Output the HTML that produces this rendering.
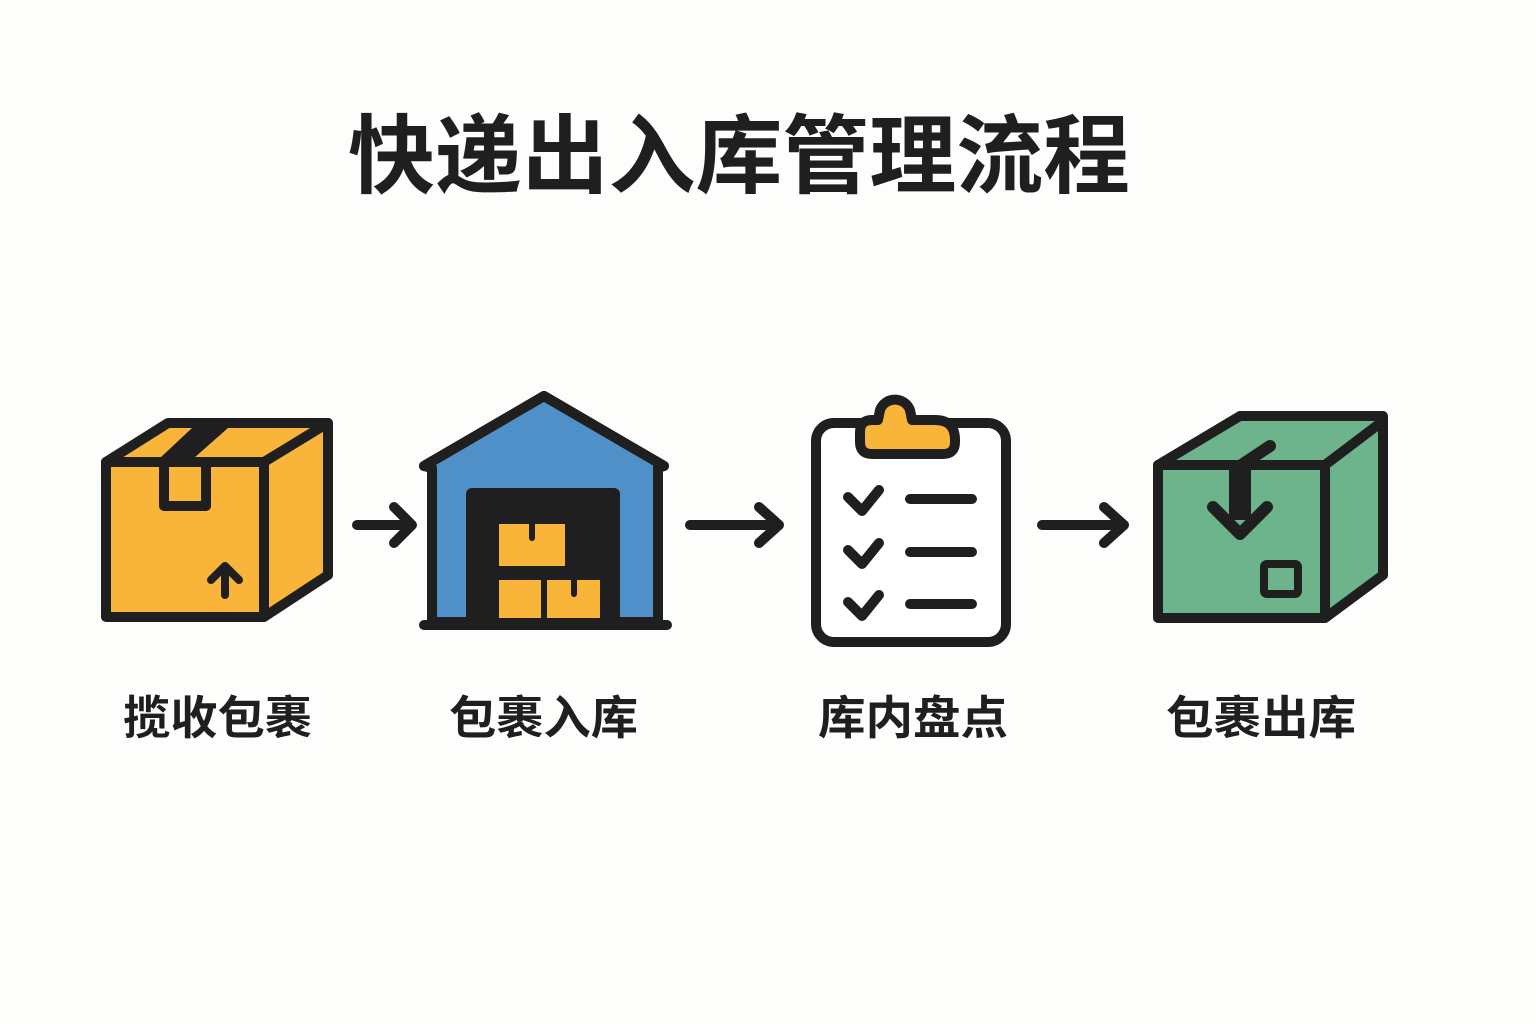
<!DOCTYPE html>
<html><head><meta charset="utf-8"><style>
html,body{margin:0;padding:0;background:#fdfdfc;}
svg{display:block}
text{font-family:"Liberation Sans","Noto Sans CJK SC",sans-serif;font-weight:bold;fill:#1f1f1f}
</style></head><body>
<svg width="1536" height="1024" viewBox="0 0 1536 1024" xmlns="http://www.w3.org/2000/svg">
<rect width="1536" height="1024" fill="#fdfdfc"/>
<text x="348" y="186" font-size="86" textLength="782" lengthAdjust="spacingAndGlyphs">快递出入库管理流程</text>

<g stroke="#1f1f1f" stroke-width="10" stroke-linejoin="round" stroke-linecap="round">
<!-- Box 1 -->
<path d="M106,462 L168,423 L328,423 L328,575 L264,617 L106,617 Z" fill="#f8b53a"/>
<polygon points="192,428 228,428 194,458 160,458" fill="#1f1f1f" stroke-width="0"/>
<path d="M106,462 L264,462 L328,423 M264,462 L264,617" fill="none"/>
<rect x="164" y="462" width="42" height="44" fill="#f8b53a"/>
<path d="M225,595 L225,567 M211,580 L225,566 L239,580" fill="none" stroke-width="8"/>

<!-- arrows -->
<path d="M357,525 L410,525 M394,507 L412,525 L394,543" fill="none"/>
<path d="M690,525 L777,525 M759,507 L779,525 L759,543" fill="none"/>
<path d="M1042,525 L1122,525 M1104,507 L1124,525 L1104,543" fill="none"/>

<!-- Warehouse -->
<path d="M432,622 L432,468 L424,466 L544,396 L664,466 L658,468 L658,622 Z" fill="#4f90c8"/>
<path d="M424,466 L544,396 L664,466" fill="none"/>
<rect x="468" y="490" width="150" height="132" rx="4" fill="#1f1f1f" stroke-width="4"/>
<path d="M424,625 L667,625" fill="none"/>
</g>
<g fill="#f8b53a">
<rect x="499" y="524" width="66" height="42"/>
<rect x="499" y="580" width="42" height="38"/>
<rect x="547" y="580" width="53" height="38"/>
</g>
<g stroke="#1f1f1f" stroke-width="6" stroke-linecap="round">
<path d="M532,524 L532,538 M574,580 L574,594"/>
</g>

<g stroke="#1f1f1f" stroke-width="10" stroke-linejoin="round" stroke-linecap="round">
<!-- Clipboard -->
<rect x="816" y="423" width="190" height="219" rx="18" fill="#fff"/>
<path d="M878,420 L880,410 A16,16 0 0 1 910,410 L912,420 L935,420 Q955,420 955,440 L955,442 Q955,454 943,454 L872,454 Q860,454 860,442 L860,432 Q860,420 872,420 Z" fill="#f8b53a"/>
<path d="M848,497 L862,511 L879,490 M848,550 L862,564 L879,543 M848,602 L862,616 L879,595" fill="none"/>
<path d="M910,499 L972,499 M910,552 L972,552 M910,604 L972,604" fill="none"/>

<!-- Green box -->
<path d="M1158,465 L1240,416 L1383,416 L1383,575 L1325,618 L1158,618 Z" fill="#6db48c"/>
<path d="M1158,465 L1325,465 L1383,421 M1325,465 L1325,618" fill="none"/>
<path d="M1270,446 L1240,466" fill="none" stroke-width="12"/>
<rect x="1229" y="465" width="22" height="55" fill="#1f1f1f" stroke-width="0"/>
<path d="M1213,507 L1240,534 L1267,507" fill="none" stroke-width="12"/>
<rect x="1264" y="564" width="34" height="30" rx="3" fill="#6db48c" stroke-width="8"/>
</g>

<text x="123" y="734" font-size="46" textLength="189" lengthAdjust="spacingAndGlyphs">揽收包裹</text>
<text x="449" y="734" font-size="46" textLength="189" lengthAdjust="spacingAndGlyphs">包裹入库</text>
<text x="818" y="734" font-size="46" textLength="190" lengthAdjust="spacingAndGlyphs">库内盘点</text>
<text x="1166" y="734" font-size="46" textLength="190" lengthAdjust="spacingAndGlyphs">包裹出库</text>
</svg>
</body></html>
